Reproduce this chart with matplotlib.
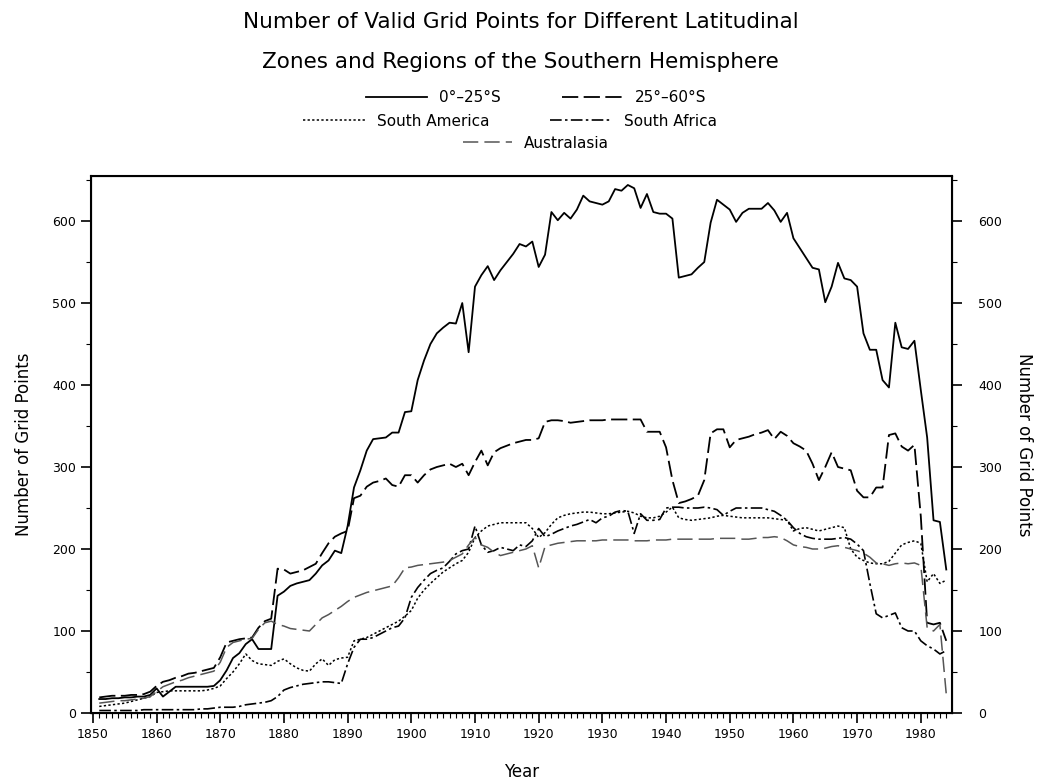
import matplotlib
matplotlib.use("Agg")
import matplotlib.pyplot as plt
import numpy as np

# years 1851-1984
years = np.arange(1851, 1985)

# 0-25S
zone_0_25 = [17, 17, 18, 18, 19, 19, 20, 20, 22, 30,
             20, 26, 32, 32, 32, 32, 32, 32, 33, 40,
             52, 67, 73, 84, 90, 78, 78, 78, 143, 148,
             155, 158, 160, 162, 170, 180, 186, 198, 195, 228,
             275, 296, 320, 334, 335, 336, 342, 342, 367, 368,
             406, 430, 450, 463, 470, 476, 475, 500, 440, 520,
             534, 545, 528, 540, 550, 560, 572, 569, 575, 544,
             559, 611, 601, 610, 603, 614, 631, 624, 622, 620,
             624, 639, 637, 644, 640, 616, 633, 611, 609, 609,
             603, 531, 533, 535, 543, 550, 598, 626, 620, 614,
             599, 610, 615, 615, 615, 622, 613, 599, 610, 579,
             567, 555, 543, 541, 501, 520, 549, 530, 528, 520,
             463, 443, 443, 406, 397, 476, 446, 444, 454, 394,
             336, 235, 233, 175]

# 25-60S
zone_25_60 = [19, 20, 21, 21, 21, 22, 22, 23, 26, 33,
              38, 40, 43, 45, 48, 49, 51, 53, 55, 68,
              86, 88, 90, 91, 92, 104, 112, 115, 176, 175,
              170, 172, 174, 178, 182, 195, 207, 215, 219, 222,
              262, 265, 276, 281, 283, 286, 278, 276, 290, 290,
              281, 290, 297, 300, 302, 304, 300, 304, 290, 306,
              320, 302, 318, 323, 326, 329, 331, 333, 333, 335,
              355, 357, 357, 356, 354, 355, 356, 357, 357, 357,
              358, 358, 358, 358, 358, 358, 343, 343, 343, 324,
              284, 256, 258, 261, 265, 284, 341, 346, 346, 324,
              333, 335, 337, 340, 342, 345, 334, 343, 338, 329,
              325, 320, 304, 284, 300, 318, 300, 298, 296, 271,
              263, 263, 275, 275, 339, 341, 325, 320, 327, 240,
              110, 108, 110, 88]

south_america = [8, 9, 10, 11, 12, 14, 16, 18, 20, 25,
                 26, 27, 27, 27, 27, 27, 27, 28, 30, 33,
                 42, 50, 60, 72, 64, 60, 59, 58, 63, 66,
                 60, 55, 52, 51, 60, 66, 58, 65, 67, 68,
                 88, 90, 92, 96, 100, 104, 108, 112, 118, 125,
                 140, 150, 158, 165, 172, 177, 182, 186, 196, 214,
                 222, 228, 230, 232, 232, 232, 232, 232, 225, 214,
                 220, 230, 238, 241, 243, 244, 245, 245, 244, 243,
                 243, 244, 245, 246, 244, 240, 238, 238, 240, 245,
                 251, 238, 236, 235, 236, 237, 238, 240, 241, 240,
                 239, 238, 238, 238, 238, 238, 237, 236, 235, 222,
                 225, 226, 224, 222, 224, 226, 228, 226, 200, 190,
                 186, 183, 182, 182, 185, 195, 205, 208, 210, 207,
                 160, 170, 158, 162]

south_africa = [3, 3, 3, 3, 3, 3, 3, 4, 4, 4,
                4, 4, 4, 4, 4, 4, 5, 5, 6, 7,
                7, 7, 8, 10, 11, 12, 13, 15, 20, 28,
                31, 33, 35, 36, 37, 38, 38, 37, 36, 60,
                80, 90, 90, 92, 96, 100, 104, 106, 116, 141,
                153, 162, 170, 174, 177, 185, 194, 198, 200, 228,
                205, 196, 198, 202, 200, 198, 205, 203, 210, 225,
                215, 218, 222, 225, 228, 230, 233, 236, 232, 238,
                240, 245, 247, 246, 219, 243, 235, 235, 236, 250,
                251, 251, 250, 250, 250, 251, 250, 248, 241, 246,
                250, 250, 250, 250, 250, 248, 246, 241, 235, 226,
                219, 215, 213, 212, 212, 212, 213, 214, 212, 206,
                198, 158, 121, 116, 119, 122, 104, 100, 100, 88,
                82, 78, 72, 76]

australasia = [12, 13, 14, 15, 15, 16, 17, 18, 20, 26,
               32, 35, 38, 40, 43, 45, 47, 49, 51, 62,
               80, 86, 88, 90, 91, 102, 110, 112, 108, 106,
               103, 102, 101, 100, 108, 116, 120, 125, 130, 136,
               141, 144, 147, 149, 151, 153, 155, 165, 177, 178,
               180, 181, 182, 183, 184, 186, 190, 194, 205, 214,
               205, 202, 196, 192, 194, 196, 198, 200, 204, 177,
               203, 205, 207, 208, 209, 210, 210, 210, 210, 211,
               211, 211, 211, 211, 210, 210, 210, 211, 211, 211,
               212, 212, 212, 212, 212, 212, 212, 213, 213, 213,
               213, 212, 212, 213, 214, 214, 215, 214, 210, 205,
               203, 202, 200, 200, 201, 203, 204, 202, 200, 198,
               195, 190, 183, 182, 180, 182, 183, 182, 183, 180,
               104, 100, 108, 23]

plt.rcParams['font.family'] = ['DejaVu Sans']

fig = plt.figure(figsize=(10.41, 7.81), dpi=100)
ax = fig.add_axes([0.0874, 0.0871, 0.8271, 0.6876])

l1, = ax.plot(years, zone_0_25, color='black', lw=1.3, ls='-')
l2, = ax.plot(years, zone_25_60, color='black', lw=1.3, ls=(0, (9, 3)))
l3, = ax.plot(years, south_america, color='black', lw=1.1, ls=(0, (1.5, 1.5)))
l4, = ax.plot(years, south_africa, color='black', lw=1.2, ls=(0, (7, 2, 1.5, 2)))
l5, = ax.plot(years, australasia, color='#555555', lw=1.1, ls=(0, (10, 4)))

ax.set_xlim(1849.7, 1984.9)
ax.set_ylim(0, 655)
ax.set_xticks(np.arange(1850, 1981, 10))
ax.set_xticks(np.arange(1850, 1985, 1), minor=True)
ax.set_yticks(np.arange(0, 601, 100))
ax.set_yticks(np.arange(0, 651, 50), minor=True)
ax.tick_params(which='major', direction='out', length=7, width=1.2, labelsize=9)
ax.tick_params(which='minor', direction='out', length=3.5, width=0.8)
for s in ax.spines.values():
    s.set_linewidth(1.5)

ax2 = ax.twinx()
ax2.set_ylim(ax.get_ylim())
ax2.set_yticks(np.arange(0, 601, 100))
ax2.set_yticks(np.arange(0, 651, 50), minor=True)
ax2.tick_params(which='major', direction='out', length=7, width=1.2,
                labelsize=9, pad=12)
ax2.tick_params(which='minor', direction='out', length=3.5, width=0.8)

ax.set_xlabel('Year', fontsize=12, labelpad=16)
ax.set_ylabel('Number of Grid Points', fontsize=12, labelpad=14)
ax2.set_ylabel('Number of Grid Points', fontsize=12, rotation=270, labelpad=22)

fig.text(0.5, 1 - 22 / 781, 'Number of Valid Grid Points for Different Latitudinal',
         ha='center', va='center', fontsize=15.5)
fig.text(0.5, 1 - 62 / 781, 'Zones and Regions of the Southern Hemisphere',
         ha='center', va='center', fontsize=15.5)

kw = dict(frameon=False, fontsize=11, handlelength=4, columnspacing=4,
          handletextpad=0.8, borderpad=0, loc='center')
fig.legend([l1, l2], ['0°–25°S', '25°–60°S'], ncol=2,
           bbox_to_anchor=(0.515, 1 - 98 / 781), **kw)
fig.legend([l3, l4], ['South America', 'South Africa'], ncol=2,
           bbox_to_anchor=(0.49, 1 - 121 / 781), **kw)
fig.legend([l5], ['Australasia'], ncol=1, handlelength=3.2,
           bbox_to_anchor=(0.515, 1 - 143 / 781),
           **{k: v for k, v in kw.items() if k != 'handlelength'})

fig.savefig('out.png', dpi=100)
